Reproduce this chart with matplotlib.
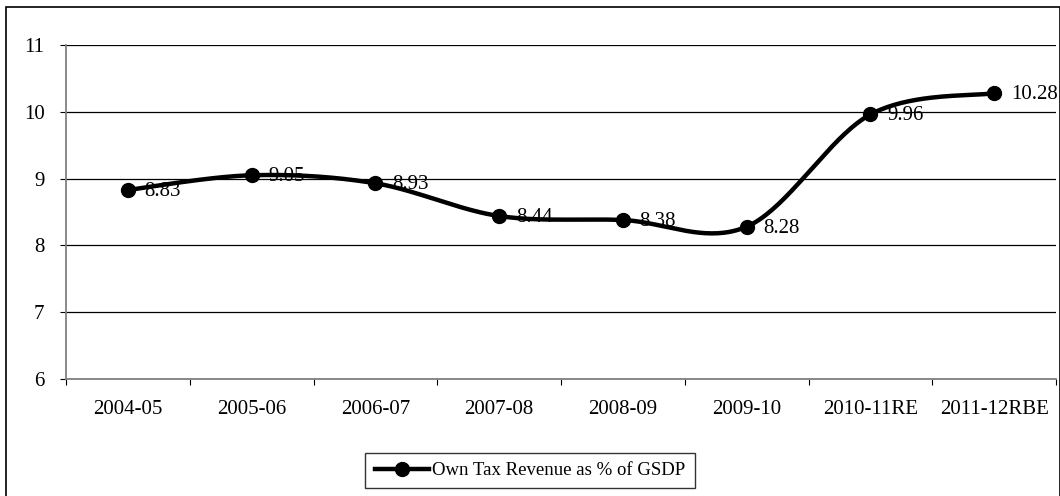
import numpy as np
import matplotlib
matplotlib.use("Agg")
import matplotlib.pyplot as plt
from matplotlib.patches import Rectangle
from matplotlib.lines import Line2D

categories = ["2004-05", "2005-06", "2006-07", "2007-08", "2008-09", "2009-10", "2010-11RE", "2011-12RBE"]
values = [8.83, 9.05, 8.93, 8.44, 8.38, 8.28, 9.96, 10.28]
labels = ["8.83", "9.05", "8.93", "8.44", "8.38", "8.28", "9.96", "10.28"]
series_name = "Own Tax Revenue as % of GSDP"

plt.rcParams['font.family'] = ['Liberation Serif', 'DejaVu Serif']

W, H = 1060, 496
fig = plt.figure(figsize=(W / 100, H / 100), dpi=100)

def fx(px):
    return px / W

def fy(py):
    return 1 - py / H

# outer chart border
fig.patches.append(Rectangle((fx(6), fy(500)), fx(1060) - fx(6), fy(7) - fy(500),
                             transform=fig.transFigure, fill=False, edgecolor='black', lw=1.2))

left, right, top, bottom = 66, 1056, 45, 379
ax = fig.add_axes([fx(left), fy(bottom), fx(right) - fx(left), fy(top) - fy(bottom)])

n = len(values)
x = np.arange(n)
y = np.array(values)

# Excel-style smoothing (Catmull-Rom via cubic Bezier)
xs, ys = [], []
for i in range(n - 1):
    p0 = np.array([x[max(i - 1, 0)], y[max(i - 1, 0)]], float)
    p1 = np.array([x[i], y[i]], float)
    p2 = np.array([x[i + 1], y[i + 1]], float)
    p3 = np.array([x[min(i + 2, n - 1)], y[min(i + 2, n - 1)]], float)
    c1 = p1 + (p2 - p0) / 6
    c2 = p2 - (p3 - p1) / 6
    t = np.linspace(0, 1, 40)[:, None]
    b = (1 - t) ** 3 * p1 + 3 * (1 - t) ** 2 * t * c1 + 3 * (1 - t) * t ** 2 * c2 + t ** 3 * p2
    xs.extend(b[:, 0]); ys.extend(b[:, 1])

ax.plot(xs, ys, color='black', lw=3.2, solid_capstyle='round', zorder=3)
ax.plot(x, y, 'o', color='black', ms=10, zorder=4)

for xi, yi, lab in zip(x, y, labels):
    ax.annotate(lab, (xi, yi), xytext=(12, -1), textcoords='offset points',
                ha='left', va='center', fontsize=15, zorder=5)

ax.set_xlim(-0.5, n - 0.5)
ax.set_ylim(6, 11)
ax.set_yticks([6, 7, 8, 9, 10, 11])
ax.yaxis.grid(True, color='black', lw=0.9)
ax.set_axisbelow(True)

ax.set_xticks(np.arange(-0.5, n, 1.0))
ax.set_xticklabels([])
ax.set_xticks(x, minor=True)
ax.set_xticklabels(categories, minor=True, fontsize=15)
ax.tick_params(axis='x', which='minor', length=0, pad=15)
ax.tick_params(axis='x', which='major', length=4.5, color='black', direction='out')
ax.tick_params(axis='y', length=4.5, direction='out', labelsize=15, pad=11, color='black')

for s in ['top', 'right']:
    ax.spines[s].set_visible(False)
ax.spines['left'].set_color('#808080')
ax.spines['bottom'].set_color('#808080')
ax.spines['left'].set_linewidth(1.3)
ax.spines['bottom'].set_linewidth(1.3)

handle = Line2D([], [], color='black', lw=3.2, marker='o', ms=10)
leg = fig.legend([handle], [series_name], loc='center',
                 bbox_to_anchor=(fx(530), fy(470.5)), fontsize=13.5,
                 frameon=True, fancybox=False, handlelength=2.9, handletextpad=0.15,
                 borderpad=0.5, borderaxespad=0)
leg.get_frame().set_edgecolor('black')
leg.get_frame().set_linewidth(1.0)

fig.savefig("out.png", dpi=100)
